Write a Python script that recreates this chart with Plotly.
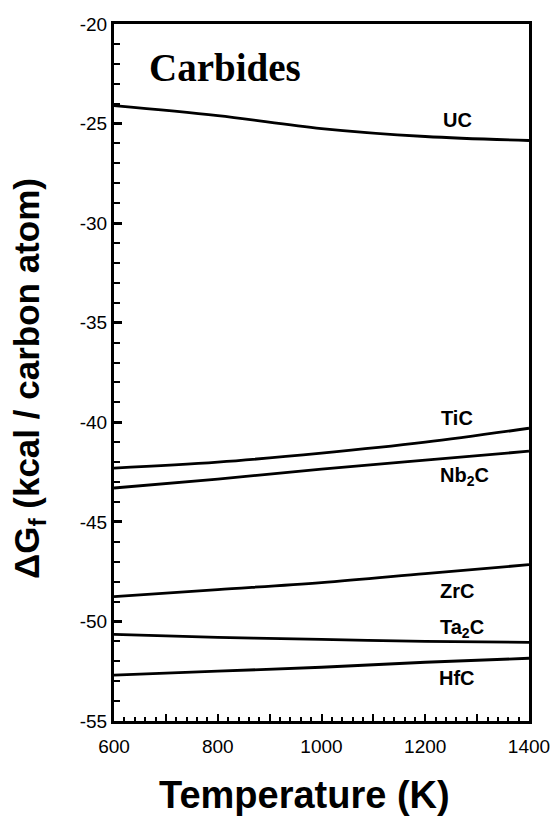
import plotly.graph_objects as go

temps = [600, 800, 1000, 1200, 1400]
uc = [-24.1, -24.6, -25.25, -25.65, -25.85]
tic = [-42.3, -42.0, -41.55, -41.0, -40.3]
nb2c = [-43.3, -42.85, -42.35, -41.9, -41.45]
zrc = [-48.75, -48.4, -48.05, -47.6, -47.15]
ta2c = [-50.65, -50.8, -50.9, -51.0, -51.05]
hfc = [-52.7, -52.5, -52.3, -52.05, -51.85]

series_names = ["UC", "TiC", "Nb<sub>2</sub>C", "ZrC", "Ta<sub>2</sub>C", "HfC"]
series_values = [uc, tic, nb2c, zrc, ta2c, hfc]
label_x = [1262, 1262, 1275, 1262, 1270, 1262]
label_y = [-24.8, -39.8, -42.7, -48.45, -50.35, -52.85]

x_tickvals = [600, 700, 800, 900, 1000, 1100, 1200, 1300, 1400]
x_ticktext = ["600", "", "800", "", "1000", "", "1200", "", "1400"]
y_tickvals = [-20, -25, -30, -35, -40, -45, -50, -55]
y_ticktext = ["-20", "-25", "-30", "-35", "-40", "-45", "-50", "-55"]

fig = go.Figure()
for name, vals in zip(series_names, series_values):
    fig.add_trace(go.Scatter(x=temps, y=vals, mode="lines", name=name,
                             line=dict(color="black", width=2.8, shape="spline"),
                             showlegend=False))

for name, lx, ly in zip(series_names, label_x, label_y):
    fig.add_annotation(x=lx, y=ly, text=name, showarrow=False,
                       font=dict(family="Liberation Sans", size=20, color="black", weight="bold"))

fig.add_annotation(x=0.08, y=0.938, xref="paper", yref="paper", xanchor="left", yanchor="middle",
                   text="Carbides", showarrow=False,
                   font=dict(family="Liberation Serif", size=39, color="black", weight="bold"))

# axis titles
fig.add_annotation(x=0.46, y=-0.106, xref="paper", yref="paper", xanchor="center", yanchor="middle",
                   text="Temperature (K)", showarrow=False,
                   font=dict(family="Liberation Sans", size=38, color="black", weight="bold"))
fig.add_annotation(x=-0.205, y=0.492, xref="paper", yref="paper", xanchor="center", yanchor="middle",
                   text="ΔG<sub>f</sub> (kcal / carbon atom)", showarrow=False, textangle=-90,
                   font=dict(family="Liberation Sans", size=35, color="black", weight="bold"))

fig.update_xaxes(range=[600, 1400], tickvals=x_tickvals, ticktext=x_ticktext,
                 ticks="inside", ticklen=7, tickwidth=2, tickcolor="black",
                 minor=dict(dtick=20, ticks="inside", ticklen=4, tickwidth=1.5, tickcolor="black"),
                 showline=True, linewidth=3, linecolor="black", mirror=True, automargin=False,
                 showgrid=False, zeroline=False, ticklabeloverflow="allow", ticklabelstandoff=6,
                 tickfont=dict(family="Liberation Sans", size=19, color="black"))
fig.update_yaxes(range=[-55, -20], tickvals=y_tickvals, ticktext=y_ticktext,
                 ticks="inside", ticklen=8, tickwidth=2.5, tickcolor="black",
                 minor=dict(dtick=1, ticks="inside", ticklen=6, tickwidth=2, tickcolor="black"),
                 showline=True, linewidth=3, linecolor="black", mirror=True, automargin=False,
                 showgrid=False, zeroline=False, ticklabeloverflow="allow",
                 tickfont=dict(family="Liberation Sans", size=19, color="black"))

fig.update_layout(width=550, height=821, margin=dict(l=114, r=21, t=24, b=100),
                  paper_bgcolor="white", plot_bgcolor="white")

fig.write_html("out.html", config={"displayModeBar": False},
               post_script="document.body.style.margin='0';document.body.style.overflow='hidden';")
